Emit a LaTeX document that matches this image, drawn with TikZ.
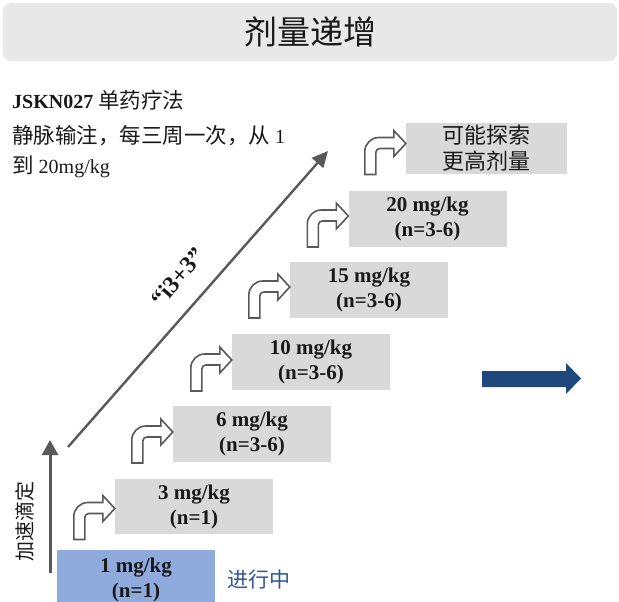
\documentclass[tikz,border=0pt]{standalone}
\usepackage{fontspec}
\setmainfont{Liberation Serif}
\newfontfamily\cjk{Noto Sans CJK SC}
\usetikzlibrary{arrows.meta}
\definecolor{titlegray}{HTML}{E8E8E8}
\definecolor{boxgray}{HTML}{D9D9D9}
\definecolor{boxblue}{HTML}{8FAADC}
\definecolor{arrgray}{HTML}{595959}
\definecolor{navy}{RGB}{31,73,125}
\definecolor{txtblue}{RGB}{47,85,151}
\tikzset{
  dosebox/.style={fill=boxgray, draw=none, minimum width=158pt, minimum height=56pt,
    inner sep=0pt, align=center, text=black!90, font=\fontsize{21}{25}\selectfont\bfseries},
  bentarrow/.pic={
    \draw[arrgray, line width=1.6pt, fill=white, line join=miter]
      (-41,31) -- (-41,8) .. controls (-41,0.3) and (-34.7,-6) .. (-27,-6)
      -- (-12,-6) -- (-12,-13) -- (0,0) -- (-12,13) -- (-12,5) -- (-26,5)
      .. controls (-28.2,5) and (-30,6.8) .. (-30,9) -- (-30,31) -- cycle;
  },
  bodytext/.style={anchor=base west, inner sep=0pt, text=black!90, font=\fontsize{20}{24}\selectfont},
  cjkbody/.style={},
  guide/.style={arrgray, line width=2.4pt}
}
\newcommand\cjkb[1]{{\cjk\fontsize{21.5}{24}\selectfont #1}}
\begin{document}
\begin{tikzpicture}[x=1pt,y=-1pt]
\useasboundingbox (0,0) rectangle (619,602);
% title
\node[fill=titlegray, rounded corners=8pt, minimum width=614pt, minimum height=58pt,
      inner sep=0pt, text=black!90, font=\cjk\fontsize{33}{36}\selectfont] (title) at (310,32) {剂量递增};
% left text
\node[bodytext] (l1) at (12,109) {\textbf{JSKN027} \cjkb{单药疗法}};
\node[bodytext] (l2) at (12,143) {\cjkb{静脉输注，每三周一次，从} 1};
\node[bodytext] (l3) at (12,173) {\cjkb{到} 20mg/kg};
% dose boxes
\node[dosebox, fill=boxblue, minimum height=60pt] (d1) at (136,580) {1 mg/kg\\(n=1)};
\node[dosebox, minimum height=55pt] (d2) at (194,506.5) {3 mg/kg\\(n=1)};
\node[dosebox] (d3) at (252,434) {6 mg/kg\\(n=3-6)};
\node[dosebox] (d4) at (311,362) {10 mg/kg\\(n=3-6)};
\node[dosebox] (d5) at (369,290) {15 mg/kg\\(n=3-6)};
\node[dosebox] (d6) at (427.5,219) {20 mg/kg\\(n=3-6)};
\node[dosebox, minimum width=161pt, minimum height=51pt,
      font=\cjk\fontsize{22}{26}\selectfont] (d7) at (486.5,148.5) {可能探索\\更高剂量};
% bent arrows
\pic at ([yshift=-2pt]d2.west) {bentarrow};
\pic at ([yshift=2pt]d3.west) {bentarrow};
\pic at ([yshift=2pt]d4.west) {bentarrow};
\pic at ([yshift=3pt]d5.west) {bentarrow};
\pic at ([yshift=3pt]d6.west) {bentarrow};
\pic at ([yshift=5pt]d7.west) {bentarrow};
% diagonal arrow
\coordinate (ds) at (68,447);
\coordinate (de) at (328,151);
\draw[guide, -{Triangle[length=16pt,width=15pt]}] (ds) -- (de);
\node[rotate=48.7, inner sep=0pt, text=black!90, font=\fontsize{24}{26}\selectfont\bfseries] (i33) at (178,277) {“i3+3”};
% vertical arrow
\coordinate (vs) at (50,573);
\coordinate (ve) at (50,440);
\draw[arrgray, line width=3pt, -{Triangle[length=15pt,width=16pt]}] (vs) -- (ve);
\node[rotate=90, text=black!90, font=\cjk\fontsize{20}{24}\selectfont] (acc) at (25,521) {加速滴定};
% in progress
\node[anchor=west, inner sep=0pt, text=txtblue, font=\cjk\fontsize{21}{24}\selectfont] (prog) at (227,580) {进行中};
% blue arrow
\fill[navy] (482,371) -- (566,371) -- (566,363) -- (581,378.5) -- (566,394) -- (566,387) -- (482,387) -- cycle;
\end{tikzpicture}
\end{document}
